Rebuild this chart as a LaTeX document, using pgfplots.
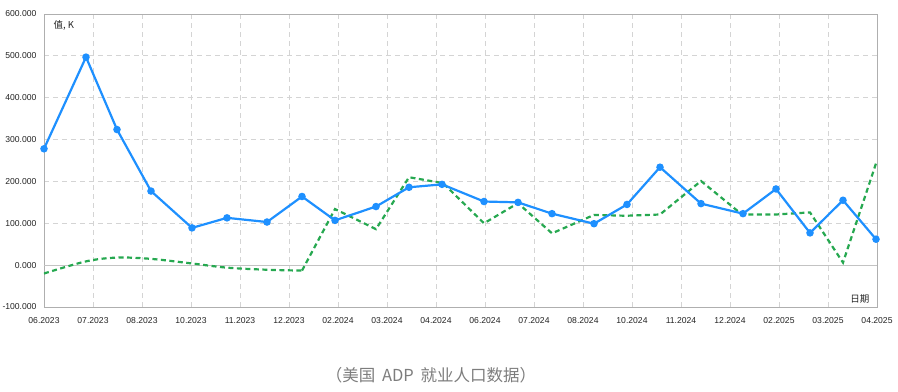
\documentclass[border=0pt]{standalone}
\usepackage{pgfplots}
\pgfplotsset{compat=1.18}
\usepackage{fontspec}
\setmainfont{Liberation Sans}
\newfontfamily\cjk{Noto Sans CJK SC}
\definecolor{adpblue}{RGB}{30,144,255}
\definecolor{adpgreen}{RGB}{38,168,80}
\definecolor{gridc}{RGB}{212,212,212}
\definecolor{framec}{RGB}{175,175,175}
\definecolor{labc}{RGB}{35,35,35}
\begin{document}
\begin{tikzpicture}
\begin{axis}[name=ax, at={(0,0)}, anchor=south west,
  scale only axis, width=833bp, height=293bp,
  xmin=44, xmax=877, ymin=-100, ymax=600,
  xtick={44,93,...,877},
  xticklabels={06.2023,07.2023,08.2023,10.2023,11.2023,12.2023,02.2024,03.2024,04.2024,06.2024,07.2024,08.2024,10.2024,11.2024,12.2024,02.2025,03.2025,04.2025},
  ytick={-100,0,...,600},
  /pgf/number format/.cd, fixed, fixed zerofill, precision=3, assume math mode=true, 1000 sep={},
  /pgfplots/.cd,
  major tick length=0pt,
  tick label style={font=\fontsize{8.6bp}{10bp}\selectfont, text=labc},
  y tick label style={xshift=-4bp},
  x tick label style={yshift=-7bp},
  grid=major,
  major grid style={gridc, line width=0.9bp, dash pattern=on 5bp off 4bp},
  extra y ticks={0}, extra y tick labels={},
  extra y tick style={grid=major, major grid style={solid, gridc!80!gray, line width=0.9bp}},
  axis line style={framec, line width=0.8bp},
  clip mode=individual,
]
\addplot[adpgreen, line width=2.2bp, dash pattern=on 5bp off 3.5bp, smooth, tension=0.55]
  coordinates {(44,-20)(86,9)(117,18)(151,15)(192,4)(227,-6)(267,-11)(302,-13)};
\addplot[adpgreen, line width=2.2bp, dash pattern=on 5bp off 3.5bp]
  coordinates {(302,-13)(335,134)(376,86)(409,210)(443,196)(484,100)(518,148)(552,76)(594,120)(626,118)(660,121)(701,201)(742,121)(776,121)(810,126)(843,6)(876,243)};
\addplot[adpblue, line width=2.2bp, mark=*, mark size=2.6bp, mark options={solid}]
  coordinates {(44,278)(86,497)(117,324)(151,177)(192,89)(227,113)(267,103)(302,164)(335,107)(376,140)(409,186)(442,193)(484,152)(518,150)(552,123)(594,99)(627,145)(660,234)(701,147)(743,123)(776,182)(810,77)(843,155)(876,62)};
\end{axis}
\node[anchor=west, font=\cjk\fontsize{9.5bp}{11bp}\selectfont, text=labc] at ([shift={(6bp,-11bp)}]ax.north west) {值, K};
\node[anchor=east, font=\cjk\fontsize{9.5bp}{11bp}\selectfont, text=labc] at ([shift={(-4bp,8bp)}]ax.south east) {日期};
\node[font=\cjk\fontsize{16.5bp}{18bp}\selectfont, text={rgb,255:red,125;green,125;blue,125}] at ([shift={(387bp,-68bp)}]ax.south west) {（美国\hspace{0.4em}ADP\hspace{0.4em}就业人口数据）};
\pgfresetboundingbox
\path[use as bounding box] ([shift={(-44bp,-85bp)}]ax.south west) rectangle ([shift={(21bp,14bp)}]ax.north east);
\end{tikzpicture}
\end{document}
